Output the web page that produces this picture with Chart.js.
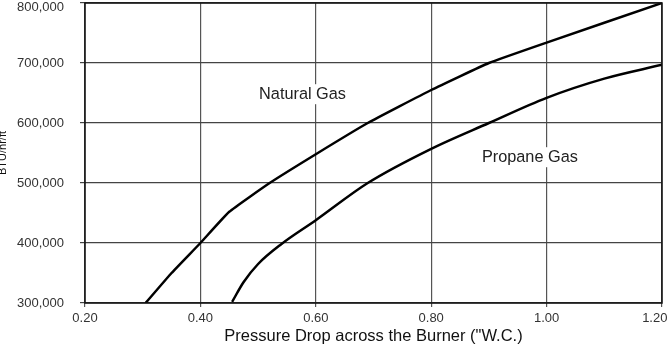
<!DOCTYPE html>
<html>
<head>
<meta charset="utf-8">
<script src="https://cdn.jsdelivr.net/npm/chart.js@4.4.1/dist/chart.umd.min.js"></script>
<style>
  html, body { margin: 0; padding: 0; background: #fff; }
  #wrap { width: 672px; height: 348px; position: relative; }
</style>
</head>
<body>
<div id="wrap"><canvas id="chart"></canvas></div>
<script>
// Pressure drop ("W.C.) vs BTU/hr/ft
const naturalX = [0.305, 0.35, 0.40, 0.45, 0.52, 0.60, 0.69, 0.80, 0.90, 1.00, 1.20];
const naturalY = [300000, 350000, 400000, 452000, 500000, 548000, 600000, 655000, 700000, 734000, 800000];

const propaneX = [0.455, 0.475, 0.50, 0.54, 0.60, 0.69, 0.80, 0.90, 1.00, 1.10, 1.20];
const propaneY = [302000, 335000, 365000, 398000, 438000, 500000, 557000, 600000, 642000, 674000, 697000];

const xTicks = [0.20, 0.40, 0.60, 0.80, 1.00, 1.20];
const yTicks = [300000, 400000, 500000, 600000, 700000, 800000];

// in-plot labels (data coordinates)
const curveLabels = [
    { text: 'Natural Gas', x: 0.577, y: 648000 },
    { text: 'Propane Gas', x: 0.971, y: 543000 }
];

const FONT = '"Liberation Sans", Arial, sans-serif';

function toPoints(xs, ys) {
    return xs.map((x, i) => ({ x: x, y: ys[i] }));
}

const curveLabelPlugin = {
    id: 'curveLabels',
    afterDatasetsDraw: function (chart) {
        const ctx = chart.ctx;
        const xs = chart.scales.x;
        const ys = chart.scales.y;
        ctx.save();
        ctx.font = '16.3px ' + FONT;
        ctx.textAlign = 'center';
        ctx.textBaseline = 'middle';
        curveLabels.forEach(l => {
            const px = xs.getPixelForValue(l.x);
            const py = ys.getPixelForValue(l.y);
            const w = ctx.measureText(l.text).width;
            ctx.fillStyle = '#fff';
            ctx.fillRect(px - w / 2 - 3, py - 10, w + 6, 20);
            ctx.fillStyle = '#222';
            ctx.fillText(l.text, px, py);
        });
        ctx.restore();
    }
};

const borderPlugin = {
    id: 'plotBorder',
    afterDatasetsDraw: function (chart) {
        const a = chart.chartArea;
        const ctx = chart.ctx;
        ctx.save();
        ctx.strokeStyle = '#111';
        ctx.lineWidth = 1.5;
        ctx.strokeRect(a.left, a.top, a.right - a.left, a.bottom - a.top);
        ctx.restore();
    }
};

new Chart(document.getElementById('chart').getContext('2d'), {
    type: 'scatter',
    data: {
        datasets: [
            {
                label: 'Natural Gas',
                data: toPoints(naturalX, naturalY),
                showLine: true,
                borderColor: '#000',
                borderWidth: 2.5,
                pointRadius: 0,
                tension: 0.12
            },
            {
                label: 'Propane Gas',
                data: toPoints(propaneX, propaneY),
                showLine: true,
                borderColor: '#000',
                borderWidth: 2.5,
                pointRadius: 0,
                cubicInterpolationMode: 'monotone'
            }
        ]
    },
    options: {
        responsive: true,
        maintainAspectRatio: false,
        animation: false,
        events: [],
        layout: { padding: { top: 3, right: 10, left: 0, bottom: 0 } },
        plugins: {
            legend: { display: false },
            tooltip: { enabled: false }
        },
        scales: {
            x: {
                type: 'linear',
                min: 0.2,
                max: 1.2,
                afterBuildTicks: function (scale) {
                    scale.ticks = xTicks.map(v => ({ value: v }));
                },
                afterFit: function (scale) {
                    scale.height = 45;
                    scale.paddingLeft = 0;
                    scale.paddingRight = 0;
                },
                border: { display: false },
                grid: { color: '#555', lineWidth: 1.2, tickLength: 4 },
                ticks: {
                    padding: 4,
                    color: '#333',
                    font: { family: FONT, size: 13 },
                    // last label is pulled left so it stays inside the canvas
                    callback: v => Number(v).toFixed(2) + (v >= 1.2 ? '\u00a0\u00a0\u00a0\u00a0' : '')
                },
                title: {
                    display: true,
                    text: 'Pressure Drop across the Burner ("W.C.)',
                    color: '#111',
                    font: { family: FONT, size: 16.5 },
                    padding: { top: 0, bottom: 2 }
                }
            },
            y: {
                type: 'linear',
                min: 300000,
                max: 800000,
                afterBuildTicks: function (scale) {
                    scale.ticks = yTicks.map(v => ({ value: v }));
                },
                afterFit: function (scale) {
                    scale.width = 85;
                    scale.paddingTop = 0;
                    scale.paddingBottom = 0;
                },
                border: { display: false },
                grid: { color: '#444', lineWidth: 1.2, tickLength: 5 },
                ticks: {
                    padding: 16,
                    color: '#333',
                    font: { family: FONT, size: 13, lineHeight: 0.75 },
                    // top label sits a little below its tick, as in the reference
                    callback: v => v >= 800000 ? ['', Number(v).toLocaleString('en-US')] : Number(v).toLocaleString('en-US')
                },
                title: {
                    display: true,
                    text: 'BTU/hr/ft',
                    color: '#111',
                    font: { family: FONT, size: 11 },
                    padding: { top: -4, bottom: 0 }
                }
            }
        }
    },
    plugins: [curveLabelPlugin, borderPlugin]
});
</script>
</body>
</html>
